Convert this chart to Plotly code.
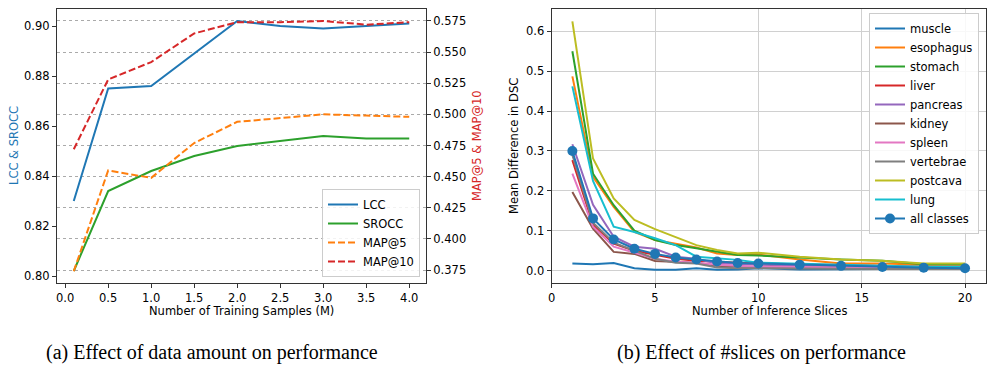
import plotly.graph_objects as go

# (a) data amount vs performance
samples = [0.1, 0.5, 1.0, 1.5, 2.0, 2.5, 3.0, 3.5, 4.0]
lcc = [0.830, 0.875, 0.876, 0.889, 0.902, 0.900, 0.899, 0.900, 0.901]
srocc = [0.802, 0.834, 0.842, 0.848, 0.852, 0.854, 0.856, 0.855, 0.855]
map5 = [0.374, 0.455, 0.449, 0.477, 0.494, 0.497, 0.500, 0.499, 0.498]
map10 = [0.472, 0.528, 0.542, 0.565, 0.574, 0.574, 0.575, 0.572, 0.574]

# (b) number of inference slices vs mean DSC difference
slices = [1, 2, 3, 4, 5, 6, 7, 8, 9, 10, 12, 14, 16, 18, 20]
classes = {
    "muscle":    [0.018, 0.016, 0.019, 0.006, 0.002, 0.002, 0.006, 0.002, 0.003, 0.006, 0.003, 0.004, 0.004, 0.004, 0.005],
    "esophagus": [0.487, 0.235, 0.160, 0.097, 0.077, 0.068, 0.058, 0.043, 0.039, 0.040, 0.028, 0.018, 0.018, 0.015, 0.015],
    "stomach":   [0.550, 0.243, 0.164, 0.100, 0.077, 0.064, 0.056, 0.047, 0.039, 0.038, 0.033, 0.028, 0.025, 0.016, 0.016],
    "liver":     [0.277, 0.115, 0.068, 0.050, 0.040, 0.030, 0.025, 0.022, 0.020, 0.018, 0.016, 0.013, 0.012, 0.010, 0.010],
    "pancreas":  [0.317, 0.165, 0.085, 0.060, 0.055, 0.035, 0.030, 0.018, 0.017, 0.015, 0.012, 0.010, 0.009, 0.008, 0.008],
    "kidney":    [0.197, 0.105, 0.047, 0.042, 0.024, 0.022, 0.020, 0.012, 0.010, 0.010, 0.008, 0.007, 0.006, 0.005, 0.005],
    "spleen":    [0.243, 0.110, 0.060, 0.045, 0.030, 0.022, 0.020, 0.015, 0.012, 0.010, 0.009, 0.008, 0.007, 0.006, 0.006],
    "vertebrae": [0.290, 0.120, 0.070, 0.050, 0.030, 0.020, 0.018, 0.008, 0.006, 0.006, 0.005, 0.005, 0.004, 0.004, 0.004],
    "postcava":  [0.625, 0.281, 0.181, 0.127, 0.104, 0.085, 0.064, 0.052, 0.043, 0.045, 0.035, 0.028, 0.025, 0.018, 0.018],
    "lung":      [0.462, 0.225, 0.110, 0.097, 0.081, 0.064, 0.035, 0.031, 0.027, 0.020, 0.018, 0.015, 0.012, 0.010, 0.010],
}
all_classes = [0.300, 0.131, 0.078, 0.055, 0.042, 0.033, 0.028, 0.023, 0.019, 0.018, 0.015, 0.012, 0.009, 0.0075, 0.006]

tab = ["#1f77b4", "#ff7f0e", "#2ca02c", "#d62728", "#9467bd",
       "#8c564b", "#e377c2", "#7f7f7f", "#bcbd22", "#17becf"]

W, H = 996, 365
FS = 11.5
tick_font = dict(family="DejaVu Sans", size=FS, color="black")

fig = go.Figure()

# left panel
fig.add_trace(go.Scatter(x=samples, y=lcc, name="LCC", mode="lines",
                         line=dict(color=tab[0], width=2), xaxis="x", yaxis="y"))
fig.add_trace(go.Scatter(x=samples, y=srocc, name="SROCC", mode="lines",
                         line=dict(color=tab[2], width=2), xaxis="x", yaxis="y"))
fig.add_trace(go.Scatter(x=samples, y=map5, name="MAP@5", mode="lines",
                         line=dict(color=tab[1], width=2, dash="7px,3px"), xaxis="x", yaxis="y2"))
fig.add_trace(go.Scatter(x=samples, y=map10, name="MAP@10", mode="lines",
                         line=dict(color=tab[3], width=2, dash="7px,3px"), xaxis="x", yaxis="y2"))

# right panel
for i, (name, vals) in enumerate(classes.items()):
    fig.add_trace(go.Scatter(x=slices, y=vals, name=name, mode="lines",
                             line=dict(color=tab[i], width=2),
                             xaxis="x2", yaxis="y3", legend="legend2"))
fig.add_trace(go.Scatter(x=slices, y=all_classes, name="all classes", mode="lines+markers",
                         line=dict(color=tab[0], width=2), marker=dict(size=10, color=tab[0]),
                         xaxis="x2", yaxis="y3", legend="legend2"))

frame = dict(showline=True, mirror=True, linecolor="#333333", linewidth=1.3, automargin=False,
             ticks="outside", ticklen=4, tickcolor="#333333", tickfont=tick_font, zeroline=False)

ydom = [1 - 283 / H, 1 - 9 / H]


def label(text, xpx, ypx, angle=0, color="black", size=FS, family="DejaVu Sans"):
    # text placed in pixel positions converted to paper coordinates
    return dict(text=text, x=xpx / W, y=1 - ypx / H, xref="paper", yref="paper", textangle=angle,
                xanchor="center", yanchor="middle", showarrow=False,
                font=dict(family=family, size=size, color=color))


fig.update_layout(
    width=W, height=H,
    margin=dict(l=0, r=0, t=0, b=0, autoexpand=False),
    paper_bgcolor="white", plot_bgcolor="white",
    font=dict(family="DejaVu Sans", size=FS, color="black"),
    xaxis=dict(domain=[57 / W, 426 / W], range=[-0.095, 4.195], tickvals=[0, 0.5, 1, 1.5, 2, 2.5, 3, 3.5, 4],
               tickformat=".1f", showgrid=False, anchor="y", **frame),
    yaxis=dict(domain=ydom, range=[0.7972, 0.9068], tickvals=[0.80, 0.82, 0.84, 0.86, 0.88, 0.90],
               tickformat=".2f", showgrid=False, anchor="x", **frame),
    yaxis2=dict(overlaying="y", side="right", anchor="x", range=[0.3646, 0.5846], automargin=False,
                tickvals=[0.375, 0.4, 0.425, 0.45, 0.475, 0.5, 0.525, 0.55, 0.575], tickformat=".3f",
                showgrid=True, gridcolor="#aaaaaa", griddash="dot", gridwidth=1,
                ticks="outside", ticklen=4, tickcolor="#333333", tickfont=tick_font, zeroline=False),
    xaxis2=dict(domain=[551.7 / W, 985.7 / W], range=[0, 21], tickvals=[0, 5, 10, 15, 20],
                showgrid=True, gridcolor="#d0d0d0", gridwidth=1.3, anchor="y3", **frame),
    yaxis3=dict(domain=ydom, range=[-0.031, 0.656], tickvals=[0, 0.1, 0.2, 0.3, 0.4, 0.5, 0.6],
                tickformat=".1f", showgrid=True, gridcolor="#d0d0d0", gridwidth=1.3, anchor="x2", **frame),
    legend=dict(x=420 / W, y=1 - 277 / H, xanchor="right", yanchor="bottom",
                bgcolor="rgba(255,255,255,0.85)", bordercolor="#cccccc", borderwidth=1,
                font=dict(size=FS), tracegroupgap=0, itemwidth=30),
    legend2=dict(x=979 / W, y=1 - 13 / H, xanchor="right", yanchor="top",
                 bgcolor="rgba(255,255,255,0.85)", bordercolor="#cccccc", borderwidth=1,
                 font=dict(size=FS), tracegroupgap=0, itemwidth=30),
    annotations=[
        label("Number of Training Samples (M)", 241, 311),
        label("Number of Inference Slices", 769, 311),
        label("LCC & SROCC", 14, 146, -90, "#1f77b4"),
        label("MAP@5 & MAP@10", 477, 146, -90, "#d62728"),
        label("Mean Difference in DSC", 514, 146, -90),
        label("(a) Effect of data amount on performance", 212, 352, size=20, family="Liberation Serif"),
        label("(b) Effect of #slices on performance", 761, 352, size=20, family="Liberation Serif"),
    ],
)

# the page body has a default 8px margin; drop it so the figure sits at the corner
fig.write_html("out.html", config={"displayModeBar": False},
               post_script="document.body.style.margin='0';")
